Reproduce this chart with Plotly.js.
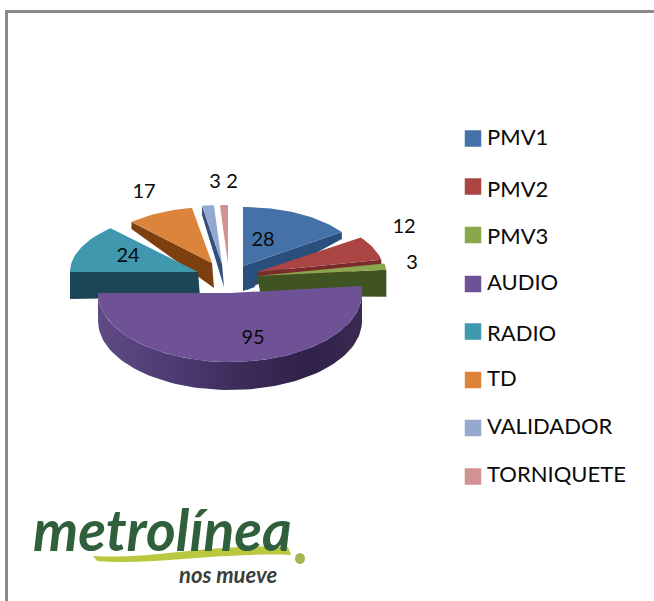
<!DOCTYPE html>
<html><head><meta charset="utf-8">
<script src="https://cdn.plot.ly/plotly-3.0.1.min.js"></script>
<style>html,body{margin:0;padding:0;background:#fff}#c{width:654px;height:601px}</style>
</head><body><div id="c"></div>
<script>
// ---- data ----
const categories = ['PMV1','PMV2','PMV3','AUDIO','RADIO','TD','VALIDADOR','TORNIQUETE'];
const values = [28,12,3,95,24,17,3,2];
const topColors = ['#4472a8','#ab4543','#8aa74e','#6f5295','#3f98ae','#dc843c','#95a9d0','#d09292'];
const wallColors = ['#2b4f7c','#7a2c2a','#3f5420','#3b2a55','#1b4658','#7e3f10','#33507c','#33507c'];
// ---- drawing geometry (pixels on the hidden axes) ----
const centers = [[243,266],[257,272],[257,276],[230,293],[198,272],[212,263],[222,264],[228,264]];
const radii = [[121,59],[127,60],[130,62],[132,69],[128,60],[118,56],[118,59],[118,59]];
const legendY = [138.5,186.5,235,284,331.5,380,428,476.5];
const legendTextY = [139.5,191,238.5,284.5,335.5,380.5,428.5,476.5];
const labelPos = [[263,240.5],[404,227.5],[412,263.5],[253,338.5],[128,256.5],[144,192.5],[215,182.5],[232,182.5]];

const total = values.reduce((a,b)=>a+b,0);
let acc = 0;
const slices = values.map((v,i)=>{const s=acc/total*2*Math.PI; acc+=v; return {i,s,e:acc/total*2*Math.PI};});
const pt = (c,r,t,dy=0)=>[c[0]+r[0]*Math.sin(t), c[1]-r[1]*Math.cos(t)+dy];
function poly(points,color,extra){
  return Object.assign({type:'scatter',mode:'lines',x:points.map(p=>p[0]),y:points.map(p=>p[1]),
    fill:'toself',fillcolor:color,line:{width:0,color:color},hoverinfo:'skip',showlegend:false},extra||{});
}
function topFace(sl){
  const c=centers[sl.i],r=radii[sl.i],pts=[c];
  const n=Math.max(4,Math.ceil((sl.e-sl.s)*30));
  for(let k=0;k<=n;k++)pts.push(pt(c,r,sl.s+(sl.e-sl.s)*k/n));
  pts.push(c);
  return poly(pts,topColors[sl.i]);
}
// wall along a cut edge: deep at the apex, shallow at the far rim (perspective)
function cutWall(sl,t,dIn,dOut){
  const c=centers[sl.i],r=radii[sl.i],o=pt(c,r,t);
  return poly([c,o,[o[0],o[1]+dOut],[c[0]+(o[0]>c[0]?4:2),c[1]+dIn],c],wallColors[sl.i]);
}
const S=slices;
const traces=[];
// back to front
traces.push(cutWall(S[6],S[6].s,23,9), topFace(S[6]));
traces.push(topFace(S[7]));
traces.push(cutWall(S[5],S[5].s,25,7), topFace(S[5]));
traces.push(cutWall(S[0],S[0].e,24,7),
  poly([centers[0],[centers[0][0],centers[0][1]+25],[centers[0][0]+12,centers[0][1]+21],centers[0]],wallColors[0]),
  topFace(S[0]));
traces.push(cutWall(S[1],S[1].e,20,5), topFace(S[1]));
traces.push(cutWall(S[2],S[2].e,20,27), topFace(S[2]));
traces.push(cutWall(S[4],S[4].s,25,27), topFace(S[4]));
// AUDIO outer wall, then its top face
(function(){
  const sl=S[3],c=centers[3],r=radii[3],d=28,up=[],low=[];
  const a0=Math.PI/2, a1=Math.min(sl.e,3*Math.PI/2);
  for(let k=0;k<=80;k++){const t=a0+(a1-a0)*k/80;up.push(pt(c,r,t));low.push(pt(c,r,t,d));}
  traces.push(poly(up.concat(low.reverse(),[up[0]]),'#46336a',{fillgradient:{type:'horizontal',
    colorscale:[[0,'#5f4a85'],[0.3,'#4d3a72'],[0.55,'#3c2b58'],[0.8,'#2f2148'],[1,'#3a2a52']]}}));
  traces.push(topFace(sl));
})();
// legend swatches and labels
traces.push({type:'scatter',mode:'markers',x:categories.map(()=>473),y:legendY,
  marker:{symbol:'square',size:16.5,color:topColors,line:{width:0}},hoverinfo:'skip',showlegend:false});
traces.push({type:'scatter',mode:'text',x:categories.map(()=>487),y:legendTextY,text:categories,
  textposition:'middle right',textfont:{family:'Lato, Carlito, sans-serif',size:22,color:'#0a0a0a'},hoverinfo:'skip',showlegend:false});
// value labels
traces.push({type:'scatter',mode:'text',x:labelPos.map(p=>p[0]),y:labelPos.map(p=>p[1]),text:values.map(String),
  textposition:'middle center',textfont:{family:'Lato, Carlito, sans-serif',size:20,color:'#0a0a0a'},hoverinfo:'skip',showlegend:false});

const layout={width:654,height:601,margin:{l:0,r:0,t:0,b:0},paper_bgcolor:'#fff',plot_bgcolor:'#fff',showlegend:false,
  xaxis:{range:[0,654],visible:false,fixedrange:true},
  yaxis:{range:[601,0],visible:false,fixedrange:true},
  shapes:[
    {type:'line',xref:'paper',yref:'paper',x0:6.5/654,x1:6.5/654,y0:0,y1:1-10/601,line:{color:'#8a8a8a',width:3}},
    {type:'line',xref:'paper',yref:'paper',x0:5/654,x1:1,y0:1-11.5/601,y1:1-11.5/601,line:{color:'#8a8a8a',width:3}},
    // logo swoosh
    {type:'path',xref:'x',yref:'y',path:'M93,556 C150,560 210,543 288,547 L291,555 C220,552 150,566 97,561 Z',fillcolor:'#b9c83f',line:{width:0}},
    {type:'circle',xref:'x',yref:'y',x0:295,x1:305,y0:553,y1:564,fillcolor:'#a9b552',line:{width:0}}
  ],
  annotations:[
    {xref:'x',yref:'y',x:162,y:529,text:'<b><i>metrolínea</i></b>',showarrow:false,font:{family:'Lato, sans-serif',size:57,color:'#2f5f3b'}},
    {xref:'x',yref:'y',x:228,y:574,text:'<b><i>nos mueve</i></b>',showarrow:false,font:{family:'Lato, sans-serif',size:22,color:'#3a3f3a'}}
  ]};
Plotly.newPlot('c',traces,layout,{displayModeBar:false,staticPlot:true});
</script></body></html>
